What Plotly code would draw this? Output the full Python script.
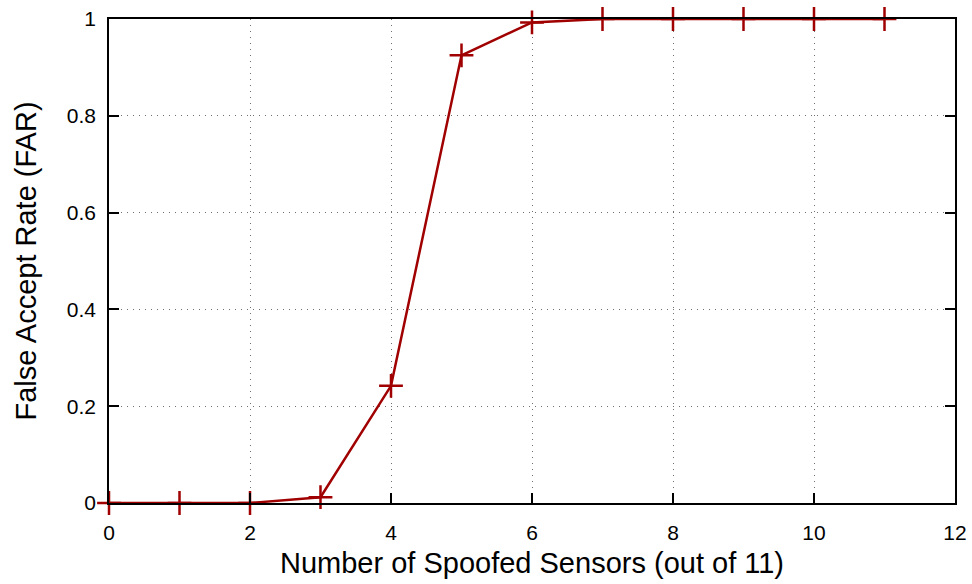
import plotly.graph_objects as go

# Number of spoofed sensors and the resulting false accept rate
spoofed_sensors = [0, 1, 2, 3, 4, 5, 6, 7, 8, 9, 10, 11]
far_values = [0.0, 0.0, 0.0, 0.012, 0.242, 0.925, 0.993, 1.0, 1.0, 1.0, 1.0, 1.0]

x_ticks = [0, 2, 4, 6, 8, 10, 12]
y_ticks = [0, 0.2, 0.4, 0.6, 0.8, 1]
y_tick_labels = ["0", "0.2", "0.4", "0.6", "0.8", "1"]

line_color = "#a00000"
font_family = "Liberation Sans, Arial, Helvetica, sans-serif"

fig = go.Figure()
fig.add_trace(go.Scatter(
    x=spoofed_sensors,
    y=far_values,
    mode="lines+markers",
    line=dict(color=line_color, width=2.5),
    marker=dict(symbol="cross-thin-open", size=17,
                line=dict(color=line_color, width=2.5)),
    cliponaxis=False,
    showlegend=False,
))

axis_common = dict(
    automargin=False,
    showline=True,
    linecolor="black",
    linewidth=1.5,
    ticks="inside",
    ticklen=10,
    tickwidth=1.5,
    tickcolor="black",
    showgrid=True,
    gridcolor="#707070",
    gridwidth=1,
    griddash="1px,5px",
    zeroline=False,
    tickfont=dict(family=font_family, size=21, color="black"),
    title_font=dict(family=font_family, size=29, color="black"),
)

fig.update_xaxes(
    range=[0, 12],
    tickvals=x_ticks,
    mirror=True,
    title_text="Number of Spoofed Sensors (out of 11)",
    title_standoff=10,
    ticklabelstandoff=10,
    **axis_common,
)
fig.update_yaxes(
    range=[0, 1],
    tickvals=y_ticks,
    ticktext=y_tick_labels,
    mirror="ticks",
    title_text="False Accept Rate (FAR)",
    title_standoff=22,
    ticklabelstandoff=7,
    **axis_common,
)

fig.update_layout(
    width=972,
    height=584,
    margin=dict(l=109, r=17, t=19, b=81),
    paper_bgcolor="white",
    plot_bgcolor="white",
    font=dict(family=font_family, color="black"),
)

fig.write_html("out.html")
